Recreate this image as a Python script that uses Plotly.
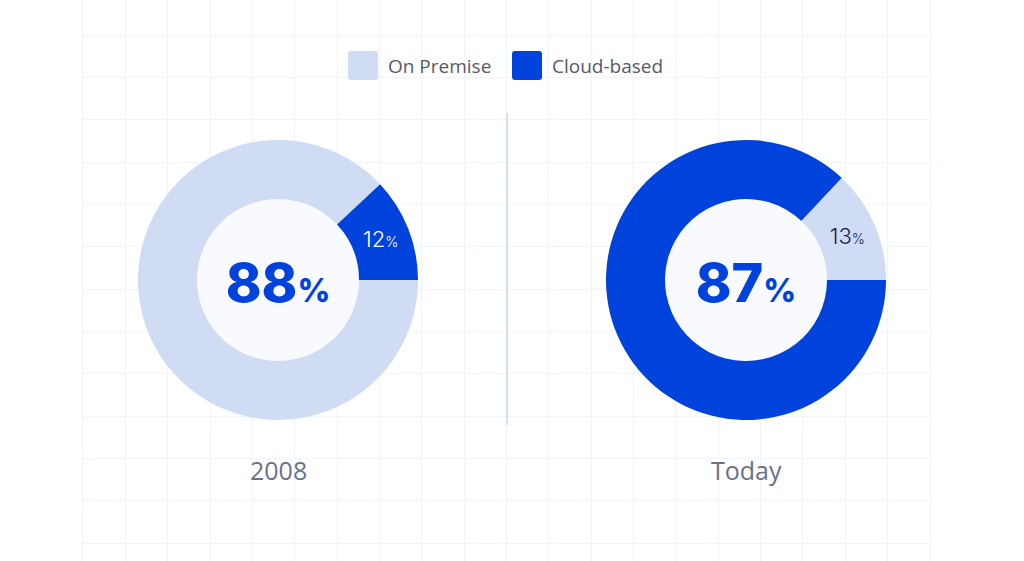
import plotly.graph_objects as go

W, H = 1024, 561

# data
series_names = ["On Premise", "Cloud-based"]
series_colors = ["#D0DCF4", "#0043DC"]
periods = ["2008", "Today"]
cloud_share = [12, 87]
premise_share = [88, 13]

# layout helpers (pixels)
pie_centers_x = [278, 746]
pie_center_y = 280
outer_r = 140
inner_r = 81
grid_left, grid_right, grid_cells = 83, 930, 20
cell = (grid_right - grid_left) / grid_cells

fig = go.Figure()

# invisible trace so the cartesian grid is drawn
fig.add_trace(go.Scatter(x=[], y=[], showlegend=False, hoverinfo="skip"))


def px_x(v):
    return v / W


def px_y(v):
    return (H - v) / H


def rounded_rect(x0, y0, x1, y1, r):
    # pixel box -> paper path with rounded corners
    X = lambda v: px_x(v)
    Y = lambda v: px_y(v)
    return (
        f"M {X(x0 + r)},{Y(y0)} L {X(x1 - r)},{Y(y0)} "
        f"Q {X(x1)},{Y(y0)} {X(x1)},{Y(y0 + r)} L {X(x1)},{Y(y1 - r)} "
        f"Q {X(x1)},{Y(y1)} {X(x1 - r)},{Y(y1)} L {X(x0 + r)},{Y(y1)} "
        f"Q {X(x0)},{Y(y1)} {X(x0)},{Y(y1 - r)} L {X(x0)},{Y(y0 + r)} "
        f"Q {X(x0)},{Y(y0)} {X(x0 + r)},{Y(y0)} Z"
    )


for i, period in enumerate(periods):
    cx = pie_centers_x[i]
    # filled centre of the donut
    fig.add_trace(
        go.Pie(
            values=[1],
            marker=dict(colors=["#F8FAFF"], line=dict(width=0)),
            domain=dict(
                x=[px_x(cx - inner_r), px_x(cx + inner_r)],
                y=[px_y(pie_center_y + inner_r), px_y(pie_center_y - inner_r)],
            ),
            textinfo="none",
            hoverinfo="skip",
            showlegend=False,
            sort=False,
        )
    )

    # big slice first, small slice last so it ends at 3 o'clock
    if cloud_share[i] < premise_share[i]:
        labels = [series_names[0], series_names[1]]
        values = [premise_share[i], cloud_share[i]]
        colors = [series_colors[0], series_colors[1]]
        small_color = "white"
    else:
        labels = [series_names[1], series_names[0]]
        values = [cloud_share[i], premise_share[i]]
        colors = [series_colors[1], series_colors[0]]
        small_color = "#17224F"
    big = values[0]

    texts = ["", f"{values[1]}<span style='font-size:14px'>%</span>"]

    fig.add_trace(
        go.Pie(
            labels=labels,
            values=values,
            hole=inner_r / outer_r,
            sort=False,
            direction="counterclockwise",
            rotation=90,
            marker=dict(colors=colors, line=dict(width=0)),
            text=texts,
            textinfo="text",
            textposition="inside",
            insidetextorientation="horizontal",
            insidetextfont=dict(family="Inter", size=22, color=small_color, weight=300),
            domain=dict(
                x=[px_x(cx - outer_r), px_x(cx + outer_r)],
                y=[px_y(pie_center_y + outer_r), px_y(pie_center_y - outer_r)],
            ),
            title=dict(
                text=f"{big}<span style='font-size:32px'>%</span>",
                position="middle center",
                font=dict(family="Inter", size=54, color="#0043DC", weight=800),
            ),
            showlegend=False,
            hoverinfo="label+percent",
        )
    )

    fig.add_annotation(
        text=period,
        x=px_x(cx),
        y=px_y(470),
        xref="paper",
        yref="paper",
        xanchor="center",
        yanchor="middle",
        showarrow=False,
        font=dict(family="Open Sans", size=25, color="#6B7089"),
    )

# custom legend with big rounded swatches
legend_x = [348, 512]
for name, color, lx in zip(series_names, series_colors, legend_x):
    fig.add_shape(
        type="path",
        xref="paper",
        yref="paper",
        path=rounded_rect(lx, 51, lx + 30, 80, 3),
        fillcolor=color,
        line=dict(width=0),
    )
    fig.add_annotation(
        text=name,
        x=px_x(lx + 38),
        y=px_y(66),
        xref="paper",
        yref="paper",
        xanchor="left",
        yanchor="middle",
        showarrow=False,
        font=dict(family="Open Sans", size=19, color="#555A6A"),
    )

# divider between the two donuts
fig.add_shape(
    type="line",
    xref="paper",
    yref="paper",
    x0=px_x(507),
    x1=px_x(507),
    y0=px_y(425),
    y1=px_y(113),
    line=dict(color="#D3DEF7", width=2),
)

grid_color = "#F0F4FB"
fig.update_xaxes(
    domain=[px_x(grid_left), px_x(grid_right)],
    range=[0, grid_cells],
    dtick=1,
    tick0=0,
    showgrid=True,
    gridcolor=grid_color,
    gridwidth=1,
    zeroline=False,
    showticklabels=False,
    showline=False,
    fixedrange=True,
)
fig.update_yaxes(
    domain=[0, 1],
    range=[0, H / cell],
    dtick=1,
    tick0=((H - 35) / cell) % 1,
    showgrid=True,
    gridcolor=grid_color,
    gridwidth=1,
    zeroline=False,
    showticklabels=False,
    showline=True,
    mirror=True,
    linecolor=grid_color,
    fixedrange=True,
)

fig.update_layout(
    width=W,
    height=H,
    autosize=False,
    margin=dict(l=0, r=0, t=0, b=0),
    paper_bgcolor="white",
    plot_bgcolor="white",
    showlegend=False,
)

fig.write_html(
    "out.html",
    config={"displayModeBar": False},
    post_script="document.body.style.margin='0';document.body.style.overflow='hidden';",
)
